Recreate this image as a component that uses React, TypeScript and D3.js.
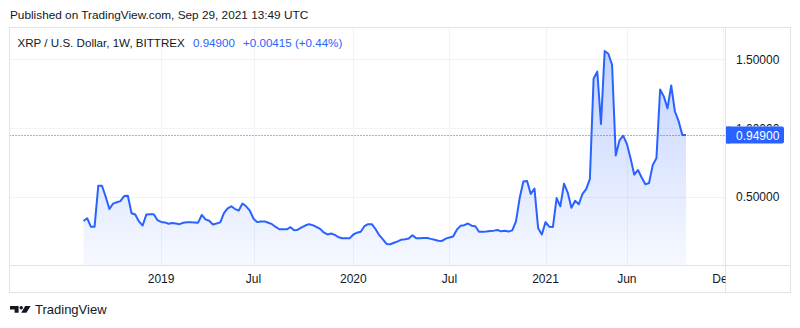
import React from "react";
import * as d3 from "d3";

// ---- data (weekly closes, XRP/USD Bittrex, 1W) ----
const firstWeek = "2018-08-13";
const lastWeek = "2021-09-27";
const weeklyClose: number[] = [
  0.323, 0.343, 0.282, 0.282, 0.58, 0.58, 0.5, 0.41, 0.45, 0.46,
  0.468, 0.505, 0.507, 0.38, 0.37, 0.32, 0.29, 0.37, 0.373, 0.372,
  0.33, 0.316, 0.313, 0.303, 0.309, 0.305, 0.3, 0.31, 0.314, 0.314,
  0.313, 0.311, 0.367, 0.335, 0.325, 0.298, 0.305, 0.313, 0.38, 0.415,
  0.43, 0.41, 0.4, 0.45, 0.43, 0.398, 0.34, 0.315, 0.32, 0.32,
  0.31, 0.3, 0.28, 0.263, 0.263, 0.263, 0.278, 0.255, 0.26, 0.276,
  0.29, 0.3, 0.293, 0.28, 0.266, 0.24, 0.225, 0.232, 0.222, 0.205,
  0.197, 0.197, 0.197, 0.225, 0.238, 0.245, 0.285, 0.3, 0.3, 0.265,
  0.22, 0.19, 0.156, 0.154, 0.165, 0.175, 0.187, 0.19, 0.195, 0.22,
  0.197, 0.197, 0.199, 0.2, 0.193, 0.187, 0.18, 0.178, 0.195, 0.203,
  0.21, 0.26, 0.288, 0.293, 0.305, 0.289, 0.285, 0.245, 0.245, 0.247,
  0.25, 0.253, 0.258, 0.248, 0.252, 0.246, 0.255, 0.32, 0.49, 0.61,
  0.615, 0.52, 0.56, 0.27, 0.225, 0.315, 0.282, 0.28, 0.49, 0.43,
  0.595, 0.53, 0.42, 0.47, 0.445, 0.52, 0.555, 0.63, 1.36, 1.41,
  1.03, 1.56, 1.54, 1.46, 0.8, 0.91, 0.944, 0.885, 0.78, 0.66,
  0.694, 0.64, 0.59, 0.6, 0.73, 0.78, 1.28, 1.23, 1.143, 1.31,
  1.12, 1.05, 0.949, 0.949,
];
const lastPrice = 0.949;
const timeTickDates = ["2019-01-07", "2019-07-01", "2020-01-06", "2020-07-06", "2021-01-04", "2021-06-07", "2021-12-06"];
const timeTickLabels = ["2019", "Jul", "2020", "Jul", "2021", "Jun", "Dec"];
const priceTicks = [0.5, 1.0, 1.5];
const priceTickLabels = ["0.50000", "1.00000", "1.50000"];

const headerText = "Published on TradingView.com, Sep 29, 2021 13:49 UTC";
const legendTitle = "XRP / U.S. Dollar, 1W, BITTREX";
const legendPrice = "0.94900";
const legendChange = "+0.00415 (+0.44%)";
const lastPriceLabel = "0.94900";

const FONT = "'Liberation Sans', Arial, sans-serif";
const BLUE = "#2962ff";
const TEXT = "#131722";
const BORDER = "#e0e3eb";
const GRID = "#f0f3fa";

export default function App() {
  const L = 9.5, R = 790.5, T = 27.5, B = 292.5;
  const axisX = 725.5; // price axis separator
  const axisY = 265.5; // time axis separator

  const parse = d3.utcParse("%Y-%m-%d");
  const start = parse(firstWeek)!;
  const end = parse(lastWeek)!;
  const dates = weeklyClose.map((_, i) => d3.utcDay.offset(start, 7 * i));

  const x = d3.scaleUtc().domain([start, end]).range([83.5, 686]);
  const y = d3.scaleLinear().domain([0.5, 1.5]).range([196.7, 59.3]);

  const pts: [number, number][] = weeklyClose.map((v, i) => [x(dates[i]), y(v)]);
  const line = d3.line<[number, number]>().x((d) => d[0]).y((d) => d[1]);
  const area = d3
    .area<[number, number]>()
    .x((d) => d[0])
    .y0(axisY)
    .y1((d) => d[1]);

  const maxY = y(d3.max(weeklyClose)!);
  const lp = y(lastPrice);
  const boxTop = lp - 8.5;

  return (
    <svg
      width={800}
      height={328}
      style={{ position: "absolute", left: 0, top: 0, background: "#fff" }}
      fontFamily={FONT}
    >
      <defs>
        <linearGradient id="areaGrad" gradientUnits="userSpaceOnUse" x1={0} y1={maxY} x2={0} y2={axisY}>
          <stop offset="0" stopColor={BLUE} stopOpacity={0.28} />
          <stop offset="1" stopColor={BLUE} stopOpacity={0.04} />
        </linearGradient>
        <clipPath id="plotClip">
          <rect x={L + 0.5} y={T + 0.5} width={axisX - L - 0.5} height={axisY - T - 0.5} />
        </clipPath>
        <clipPath id="timeClip">
          <rect x={L + 0.5} y={axisY} width={axisX - L - 0.5} height={B - axisY} />
        </clipPath>
        <clipPath id="aboveBox">
          <rect x={726} y={T} width={64} height={boxTop - T} />
        </clipPath>
      </defs>
      <rect x={0} y={0} width={800} height={328} fill="#fff" />

      {/* header */}
      <text x={10} y={18.5} fontSize={11.8} fill={TEXT}>
        {headerText}
      </text>

      {/* grid */}
      <g clipPath="url(#plotClip)">
        {priceTicks.map((v) => (
          <line key={v} x1={L} x2={axisX} y1={Math.round(y(v)) + 0.5} y2={Math.round(y(v)) + 0.5} stroke={GRID} />
        ))}
        {timeTickDates.map((d) => {
          const xx = Math.round(x(parse(d)!)) + 0.5;
          return <line key={d} x1={xx} x2={xx} y1={T} y2={axisY} stroke={GRID} />;
        })}
        <path d={area(pts)!} fill="url(#areaGrad)" />
        <line x1={L} x2={axisX} y1={Math.round(lp) + 0.5} y2={Math.round(lp) + 0.5} stroke={BLUE} strokeDasharray="1 2" />
        <path d={line(pts)!} fill="none" stroke={BLUE} strokeWidth={2} strokeLinejoin="round" />
      </g>

      {/* legend */}
      <text x={17.5} y={46.5} fontSize={11.6} fill={TEXT}>
        {legendTitle}
      </text>
      <text x={193} y={46.5} fontSize={11.6} fill={BLUE}>
        {legendPrice}
      </text>
      <text x={243} y={46.5} fontSize={11.6} fill={BLUE}>
        {legendChange}
      </text>

      {/* frame and separators */}
      <rect x={L} y={T} width={R - L} height={B - T} fill="none" stroke={BORDER} />
      <line x1={L} x2={R} y1={axisY} y2={axisY} stroke={BORDER} />
      <line x1={axisX} x2={axisX} y1={T} y2={B} stroke={BORDER} />

      {/* time axis labels */}
      <g clipPath="url(#timeClip)">
        {timeTickDates.map((d, i) => (
          <text key={d} x={x(parse(d)!)} y={283} fontSize={12} fill={TEXT} textAnchor="middle">
            {timeTickLabels[i]}
          </text>
        ))}
      </g>

      {/* price axis labels */}
      {priceTicks.map((v, i) => (
        <text
          key={v}
          x={736}
          y={y(v) + 4.5}
          fontSize={12}
          fill={TEXT}
          clipPath={v === 1.0 ? "url(#aboveBox)" : undefined}
        >
          {priceTickLabels[i]}
        </text>
      ))}
      <rect x={726} y={boxTop} width={58} height={17} rx={2} fill={BLUE} />
      <rect x={726} y={boxTop} width={4} height={17} fill={BLUE} />
      <text x={736} y={lp + 4.5} fontSize={12} fill="#fff">
        {lastPriceLabel}
      </text>

      {/* footer logo */}
      <g fill={TEXT}>
        <path d="M10,306 H18.6 V312.8 H14.6 V309.4 H10 Z" />
        <circle cx={21.2} cy={307.7} r={1.7} />
        <path d="M25.2,306 H30.6 L26.4,312.8 H21.2 Z" />
      </g>
      <text x={35} y={314.3} fontSize={13} fill={TEXT}>
        TradingView
      </text>
    </svg>
  );
}
